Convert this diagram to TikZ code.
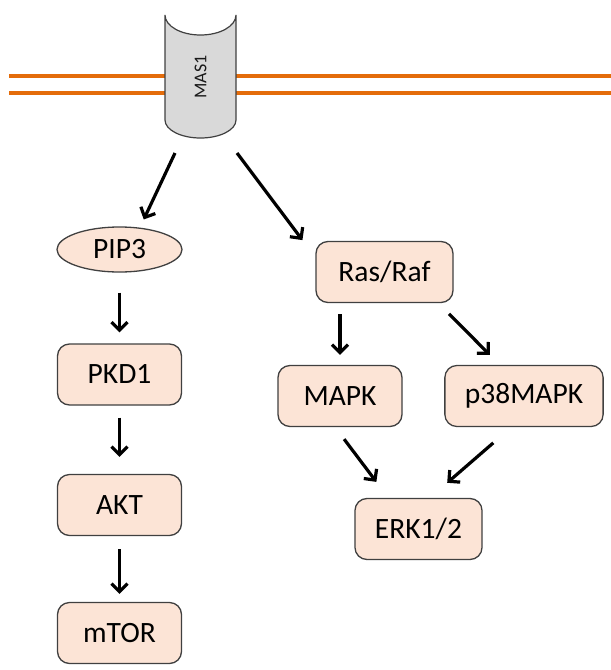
\documentclass[tikz,border=0pt]{standalone}
\usepackage{fontspec}
\setmainfont{Carlito}
\usepackage{xcolor}
\usepackage{tikz}
\usetikzlibrary{positioning,arrows.meta,shapes.geometric}

\definecolor{peach}{HTML}{FCE4D6}
\definecolor{membrane}{HTML}{E46C0A}
\definecolor{receptor}{HTML}{D9D9D9}
\definecolor{rim}{HTML}{404040}

\begin{document}
\begin{tikzpicture}[x=1pt,y=1pt,on grid,
	protein/.style={draw=rim,fill=peach,line width=1.3pt,rounded corners=12pt,minimum width=124pt,minimum height=61pt,inner xsep=20pt,font=\fontsize{29.5}{35}\selectfont},
	lipid/.style={draw=rim,fill=peach,line width=1.3pt,ellipse,minimum width=125pt,minimum height=45pt,inner sep=0pt,font=\fontsize{29.5}{35}\selectfont},
	signal/.style={-{Straight Barb[length=8pt,width=16pt]},line width=3.2pt}]
	\useasboundingbox (0,0) rectangle (611,-670);

	% membrane and receptor
	\draw[membrane,line width=3.3pt] (9,-76) -- (611,-76) (9,-93) -- (611,-93);
	\filldraw[fill=receptor,draw=rim,line width=1.2pt] (165,-15) -- (165,-120)
		arc[start angle=180,end angle=360,x radius=35.5pt,y radius=18pt] -- (236,-15)
		arc[start angle=0,end angle=-180,x radius=35.5pt,y radius=20pt] -- cycle;
	\node[rotate=90,font=\fontsize{18}{20}\selectfont,text=black!90] (mas) at (200.5,-77) {MAS1};
	\coordinate (mas-l) at (175,-153);
	\coordinate (mas-r) at (237,-153);

	% PI3K branch
	\node[lipid] (pip3) at (119.5,-249.5) {PIP3};
	\node[protein] (pkd1) [below=125pt of pip3] {PKD1};
	\node[protein] (akt) [below=130.5pt of pkd1] {AKT};
	\node[protein] (mtor) [below=128pt of akt] {mTOR};

	% MAPK branch
	\node[protein,minimum width=137pt] (ras) at (384.5,-272) {Ras/Raf};
	\node[protein] (mapk) [below left=124pt and 44.5pt of ras] {MAPK};
	\node[protein] (p38) [below right=124pt and 139.5pt of ras] {p38MAPK};
	\node[protein,minimum width=123pt] (erk) [below right=257pt and 34pt of ras] {ERK1/2};

	\path[signal]
	(mas-l) edge [shorten >=9pt] (pip3.47)
	(mas-r) edge [shorten >=21.5pt] (ras.168)
	(pip3) edge [shorten <=20pt,shorten >=11pt] (pkd1)
	(pkd1) edge [shorten <=12pt,shorten >=17pt] (akt)
	(akt) edge [shorten <=13pt,shorten >=8pt] (mtor)
	(ras.south -| mapk) edge [shorten <=11pt,shorten >=10pt] (mapk)
	(ras.-30) edge [shorten <=15pt,shorten >=14pt] (p38.128)
	(mapk.-99) edge [shorten <=15pt,shorten >=20pt] (erk.134)
	(p38.-112) edge [shorten <=24pt,shorten >=23pt] (erk.70)
	;
\end{tikzpicture}
\end{document}
